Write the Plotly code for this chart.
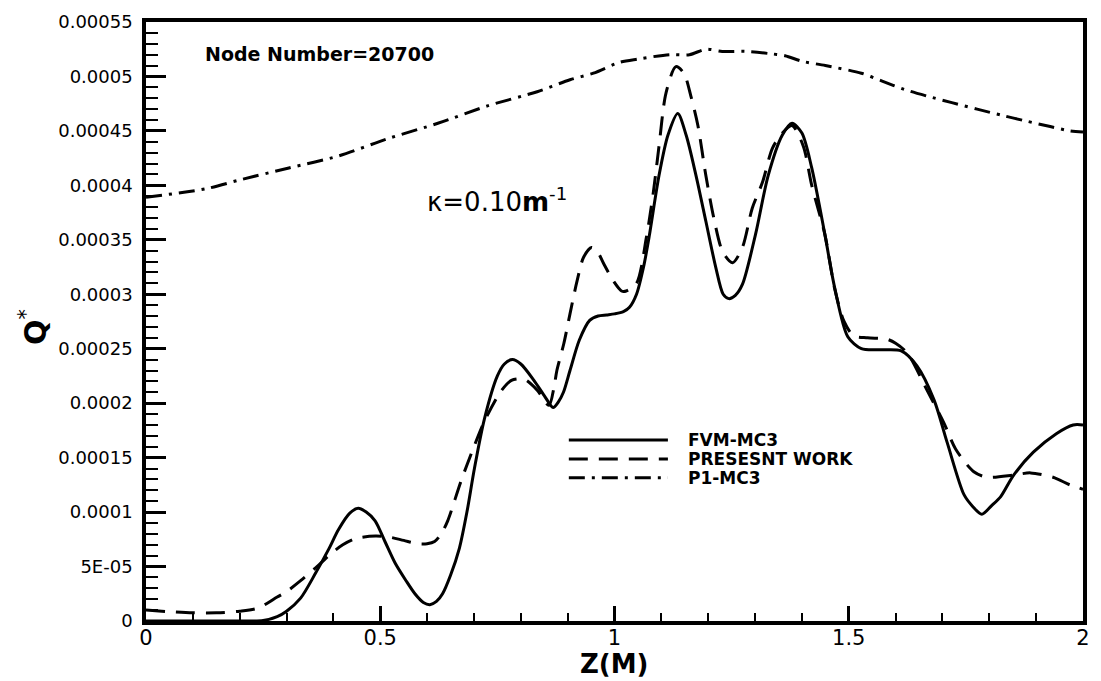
import numpy as np
import plotly.graph_objects as go

# ---------------- data (Q values in units of 1e-5) ----------------
fvm_z = [0.0, 0.1, 0.2, 0.25, 0.28, 0.30, 0.33, 0.362, 0.39, 0.411, 0.435, 0.453, 0.47, 0.489,
         0.51, 0.532, 0.555, 0.574, 0.592, 0.606, 0.62, 0.633, 0.65, 0.669, 0.685, 0.701, 0.722,
         0.75, 0.765, 0.782, 0.80, 0.828, 0.85, 0.869, 0.88, 0.891, 0.905, 0.925, 0.947, 0.965,
         0.983, 1.0, 1.019, 1.032, 1.047, 1.062, 1.074, 1.095, 1.114, 1.135, 1.153, 1.174, 1.195,
         1.216, 1.232, 1.244, 1.258, 1.273, 1.301, 1.328, 1.358, 1.379, 1.40, 1.421, 1.449, 1.47,
         1.498, 1.527, 1.57, 1.612, 1.646, 1.682, 1.71, 1.746, 1.765, 1.784, 1.805, 1.824, 1.852,
         1.894, 1.943, 1.979, 2.0]
fvm_q_e5 = [0, 0, 0, 0.05, 0.4, 0.9, 2.1, 4.4, 6.6, 8.4, 9.9, 10.35, 10.0, 9.2,
            7.3, 5.3, 3.7, 2.5, 1.7, 1.5, 1.8, 2.5, 4.2, 6.7, 10.0, 14.0, 18.5,
            22.5, 23.6, 24.0, 23.6, 22.1, 20.7, 19.6, 20.1, 21.0, 23.0, 25.8, 27.6, 28.0,
            28.1, 28.2, 28.4, 28.8, 30.0, 32.5, 35.3, 40.9, 44.6, 46.6, 44.6, 40.9, 36.7,
            32.5, 30.0, 29.6, 29.9, 30.9, 35.5, 40.9, 44.6, 45.7, 44.8, 41.6, 35.5, 30.6,
            26.1, 25.0, 24.9, 24.8, 23.4, 20.3, 16.4, 11.6, 10.5, 9.8, 10.6, 11.4, 13.4,
            15.5, 17.2, 18.0, 18.0]

pw_z = [0.0, 0.05, 0.1, 0.15, 0.2, 0.24, 0.28, 0.30, 0.33, 0.36, 0.39, 0.42, 0.45, 0.49, 0.52,
        0.55, 0.58, 0.60, 0.616, 0.63, 0.644, 0.672, 0.70, 0.722, 0.756, 0.78, 0.807, 0.835,
        0.86, 0.871, 0.877, 0.892, 0.905, 0.92, 0.934, 0.951, 0.965, 0.977, 0.998, 1.015,
        1.025, 1.047, 1.068, 1.083, 1.095, 1.11, 1.131, 1.148, 1.163, 1.178, 1.195, 1.212,
        1.231, 1.252, 1.273, 1.294, 1.316, 1.337, 1.358, 1.379, 1.403, 1.421, 1.449, 1.47,
        1.49, 1.51, 1.54, 1.58, 1.60, 1.625, 1.667, 1.703, 1.728, 1.767, 1.795, 1.852, 1.888,
        1.936, 1.972, 2.0]
pw_q_e5 = [1.0, 0.85, 0.75, 0.75, 0.9, 1.2, 2.2, 2.7, 3.7, 4.8, 6.0, 7.0, 7.6, 7.8, 7.7,
           7.4, 7.1, 7.1, 7.3, 8.0, 9.2, 12.8, 16.0, 18.3, 21.0, 22.1, 22.2, 21.2,
           19.8, 21.5, 23.0, 25.5, 28.2, 31.2, 33.4, 34.3, 33.8, 32.8, 31.2, 30.3,
           30.3, 31.0, 35.2, 39.4, 43.6, 48.5, 50.9, 50.3, 48.2, 45.5, 40.9, 37.0,
           33.9, 32.9, 34.3, 37.9, 40.3, 43.4, 44.8, 45.5, 43.6, 40.0, 35.5, 30.5,
           27.5, 26.2, 26.0, 25.9, 25.5, 24.6, 21.2, 18.2, 15.8, 13.7, 13.2, 13.4, 13.6,
           13.2, 12.5, 12.1]

p1_z = [0.0, 0.129, 0.2, 0.305, 0.411, 0.517, 0.623, 0.729, 0.835, 0.905, 0.955, 1.011, 1.05,
        1.117, 1.16, 1.195, 1.23, 1.28, 1.33, 1.364, 1.40, 1.45, 1.527, 1.57, 1.619, 1.667,
        1.72, 1.774, 1.83, 1.879, 1.93, 1.972, 2.0]
p1_q_e5 = [38.9, 39.7, 40.5, 41.6, 42.7, 44.3, 45.7, 47.3, 48.6, 49.7, 50.3, 51.3, 51.6,
           52.0, 52.0, 52.5, 52.3, 52.3, 52.1, 51.9, 51.4, 51.0, 50.3, 49.6, 48.8, 48.2,
           47.6, 47.0, 46.4, 45.9, 45.4, 45.0, 44.9]

series_names = ["FVM-MC3", "PRESESNT WORK", "P1-MC3"]
y_tickvals = [0, 5e-5, 1e-4, 1.5e-4, 2e-4, 2.5e-4, 3e-4, 3.5e-4, 4e-4, 4.5e-4, 5e-4, 5.5e-4]
y_ticktext = ["0", "5E-05", "0.0001", "0.00015", "0.0002", "0.00025", "0.0003",
              "0.00035", "0.0004", "0.00045", "0.0005", "0.00055"]
x_tickvals = [0, 0.5, 1, 1.5, 2]
x_ticktext = ["0", "0.5", "1", "1.5", "2"]

FONT = "DejaVu Sans"
dash_dashed = "19px,11px"
dash_dashdot = "16px,7px,3px,7px"

fig = go.Figure()
styles = [("solid", 3), (dash_dashed, 3), (dash_dashdot, 3)]
datasets = [(fvm_z, fvm_q_e5), (pw_z, pw_q_e5), (p1_z, p1_q_e5)]
for (z, q), name, (dash, w) in zip(datasets, series_names, styles):
    fig.add_trace(go.Scatter(
        x=z, y=np.array(q) * 1e-5, mode="lines", name=name,
        line=dict(color="black", width=w, dash=dash, shape="spline", smoothing=0.8),
        showlegend=False))

# custom legend (long line samples like the original)
leg_y = [1.661e-4, 1.488e-4, 1.316e-4]
for name, (dash, w), yy in zip(series_names, styles, leg_y):
    fig.add_shape(type="line", xref="x", yref="y", x0=0.9025, x1=1.114, y0=yy, y1=yy,
                  line=dict(color="black", width=w, dash=dash))
    fig.add_annotation(x=1.1525, y=yy, xref="x", yref="y", text="<b>%s</b>" % name,
                       showarrow=False, xanchor="left", yanchor="middle",
                       font=dict(family=FONT, size=17, color="black"))

fig.add_annotation(x=0.121, y=5.21e-4, xref="x", yref="y", text="<b>Node Number=20700</b>",
                   showarrow=False, xanchor="left", yanchor="middle",
                   font=dict(family=FONT, size=19, color="black"))
fig.add_annotation(x=0.595, y=3.87e-4, xref="x", yref="y",
                   text="κ=0.10<b>m</b><sup>-1</sup>",
                   showarrow=False, xanchor="left", yanchor="middle",
                   font=dict(family=FONT, size=26, color="black"))
fig.add_annotation(x=1.0, y=-0.072, xref="x", yref="paper", text="<b>Z(M)</b>",
                   showarrow=False, xanchor="center", yanchor="middle",
                   font=dict(family=FONT, size=26, color="black"))
fig.add_annotation(x=-0.12, y=0.49, xref="paper", yref="paper", text="<b>Q</b><sup>*</sup>",
                   textangle=-90, showarrow=False, xanchor="center", yanchor="middle",
                   font=dict(family=FONT, size=30, color="black"))

axis_common = dict(showgrid=False, zeroline=False, showline=True, linecolor="black",
                   linewidth=3.5, mirror=True, ticks="inside", tickcolor="black",
                   tickwidth=3)
fig.update_xaxes(range=[0, 2], tickvals=x_tickvals, ticktext=x_ticktext, ticklen=15,
                 tickfont=dict(family=FONT, size=21, color="black"), ticklabelstandoff=-5,
                 minor=dict(ticks="inside", ticklen=8, tickwidth=1.5, tickcolor="black", dtick=0.1),
                 **axis_common)
fig.update_yaxes(range=[0, 5.5e-4], tickvals=y_tickvals, ticktext=y_ticktext, ticklen=20,
                 tickfont=dict(family=FONT, size=18, color="black"), ticklabelstandoff=6,
                 minor=dict(ticks="inside", ticklen=12, tickwidth=1.5, tickcolor="black", dtick=1e-5),
                 **axis_common)

fig.update_layout(width=1101, height=681, margin=dict(l=146, r=11, t=15, b=60),
                  plot_bgcolor="white", paper_bgcolor="white", showlegend=False,
                  font=dict(family=FONT, color="black"))
fig.write_html("out.html")
